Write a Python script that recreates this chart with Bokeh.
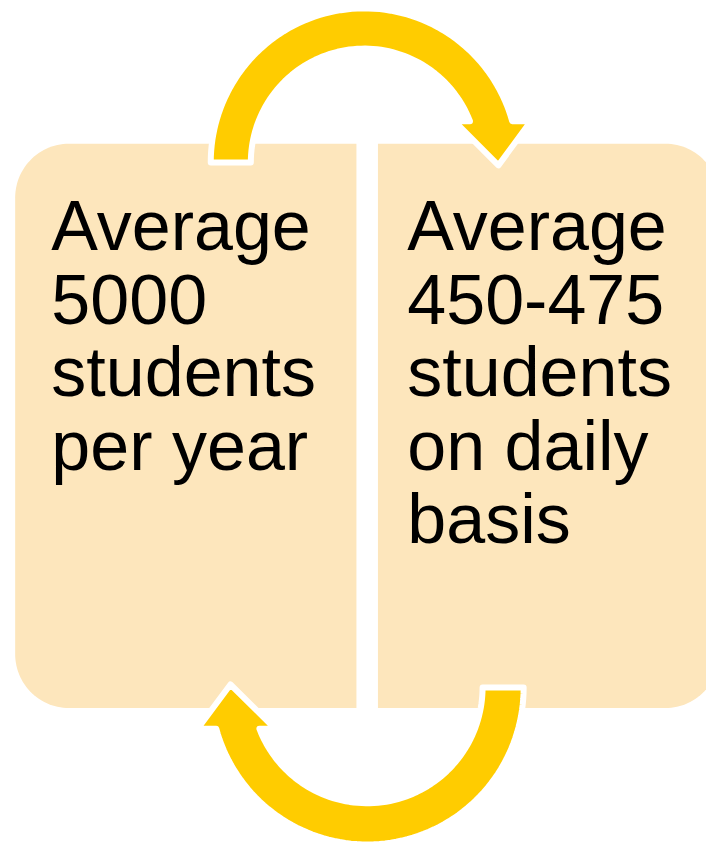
import numpy as np
from bokeh.plotting import figure
from bokeh.models import Range1d
from bokeh.core.properties import value
from bokeh.embed import file_html
from bokeh.resources import INLINE

# ---- content ----
left_lines = ["Average", "5000", "students", "per year"]
right_lines = ["Average", "450-475", "students", "on daily", "basis"]

BOX_FILL = "#FDE6BC"
ARROW_FILL = "#FFCC00"
TEXT_COLOR = "#000000"

# ---- layout parameters (pixel space of the 722x858 picture) ----
W, H = 706, 842
PIC_W, PIC_H = 722, 858
box_top, box_bottom, box_radius = 146, 721, 55
left_box_x = (15, 364)
right_box_x = (386, 735)
text_first_baseline, text_step, font_px = 255, 74.5, 70
baseline_fix = 25          # compensation for Bokeh's alphabetic baseline placement
left_text_x, right_text_x = 52, 416

# arrows: centre x, centre y, inner radius, outer radius, rotated (bottom arrow)
arrows = [
    dict(cx=372, cy=165, ri=116, ro=157, flip=False),
    dict(cx=375, cy=700, ri=118, ro=160, flip=True),
]
head_h, wing_in, wing_out, tip_off, tip_dy = 42, 16, 19, 7.5, 3


def rounded_rect(x0, x1, y0, y1, r_tl, r_tr, r_br, r_bl, n=30):
    xs, ys = [], []
    specs = [
        (x0 + r_tl, y0 + r_tl, r_tl, np.pi, 1.5 * np.pi, (x0, y0)),
        (x1 - r_tr, y0 + r_tr, r_tr, 1.5 * np.pi, 2 * np.pi, (x1, y0)),
        (x1 - r_br, y1 - r_br, r_br, 0, 0.5 * np.pi, (x1, y1)),
        (x0 + r_bl, y1 - r_bl, r_bl, 0.5 * np.pi, np.pi, (x0, y1)),
    ]
    for cx, cy, r, a0, a1, corner in specs:
        if r <= 0:
            xs.append(corner[0]); ys.append(corner[1])
        else:
            a = np.linspace(a0, a1, n)
            xs.extend(cx + r * np.cos(a)); ys.extend(cy + r * np.sin(a))
    return list(xs), list(ys)


def arc_arrow(cx, cy, ri, ro, flip, n=80):
    # shape built for the top arrow (left leg -> over the top -> head on right)
    ao_end = 2 * np.pi - np.arcsin(head_h / ro)
    ai_end = 2 * np.pi - np.arcsin(head_h / ri)
    ao = np.linspace(np.pi, ao_end, n)
    ai = np.linspace(ai_end, np.pi, n)
    x_o = ro * np.cos(ao_end)
    x_i = ri * np.cos(ai_end)
    mid = (x_o + x_i) / 2
    dx = list(ro * np.cos(ao)) + [x_o + wing_out, mid + tip_off, x_i - wing_in] + list(ri * np.cos(ai))
    dy = list(ro * np.sin(ao)) + [-head_h, tip_dy, -head_h] + list(ri * np.sin(ai))
    dx = np.array(dx); dy = np.array(dy)
    if flip:
        dx, dy = -dx, -dy
    return list(cx + dx), list(cy + dy)


p = figure(width=W, height=H,
           x_range=Range1d(0, PIC_W), y_range=Range1d(PIC_H, 0),
           output_backend="svg", toolbar_location=None, min_border=0,
           x_axis_location=None, y_axis_location=None)
p.grid.visible = False
p.outline_line_color = None
p.background_fill_color = "white"
p.border_fill_color = "white"

# boxes
lx, ly = rounded_rect(left_box_x[0], left_box_x[1], box_top, box_bottom,
                      box_radius, 0, 0, box_radius)
rx, ry = rounded_rect(right_box_x[0], right_box_x[1], box_top, box_bottom,
                      0, box_radius, box_radius, 0)
p.patches(xs=[lx, rx], ys=[ly, ry], fill_color=BOX_FILL, line_color=None)

# arrows
axs, ays = [], []
for a in arrows:
    x, y = arc_arrow(**a)
    axs.append(x); ays.append(y)
p.patches(xs=axs, ys=ays, fill_color=ARROW_FILL, line_color="white",
          line_width=6, line_join="round")

# texts
tx = [left_text_x] * len(left_lines) + [right_text_x] * len(right_lines)
ty = [text_first_baseline - baseline_fix + i * text_step for i in range(len(left_lines))] + \
     [text_first_baseline - baseline_fix + i * text_step for i in range(len(right_lines))]
p.text(x=tx, y=ty, text=left_lines + right_lines,
       text_font=value("Liberation Sans"), text_font_size=f"{font_px}px",
       text_baseline="alphabetic", text_align="left", text_color=TEXT_COLOR)

open("out.html", "w").write(file_html(p, INLINE))
